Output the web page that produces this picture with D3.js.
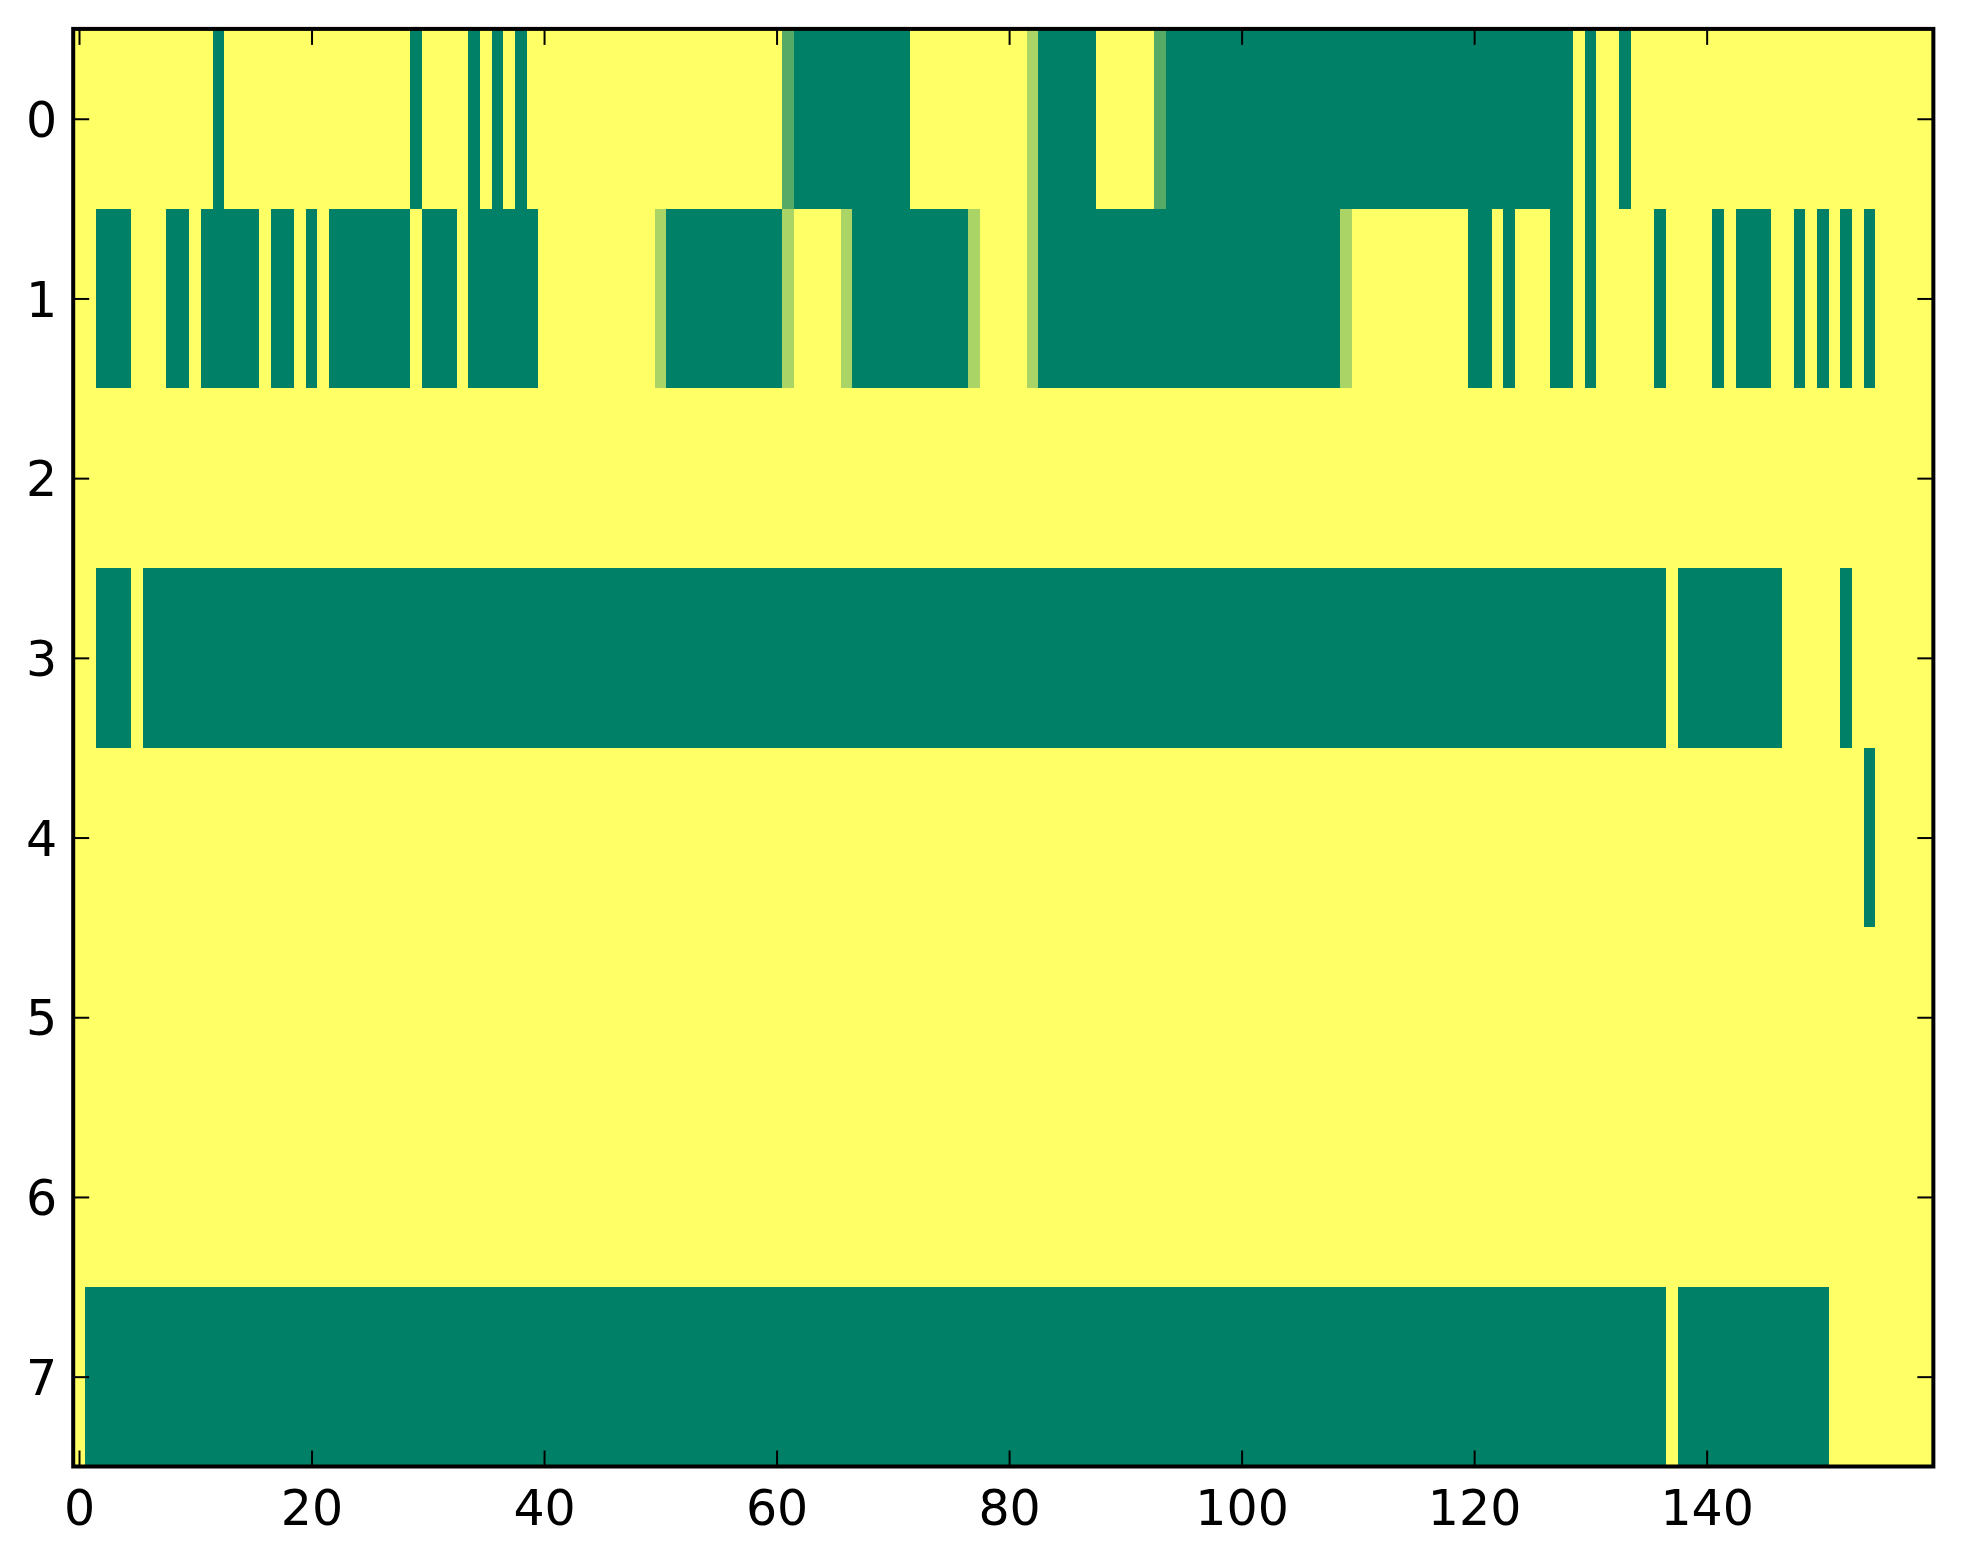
<!DOCTYPE html>
<html>
<head>
<meta charset="utf-8">
<script src="https://cdn.jsdelivr.net/npm/d3@7"></script>
<style>
  html, body { margin: 0; padding: 0; background: #ffffff; }
  svg { display: block; }
  text { font-family: "DejaVu Sans", sans-serif; fill: #000; }
</style>
</head>
<body>
<svg id="chart" width="1963" height="1564"></svg>
<script>
// Cell values per row (160 columns each). Digit d => value d/9 (0 = green, 9 = yellow).
const row0 = "9999999999 9909999999 9999999990 9999090909 9999999999 9999999999 9300000000 0099999999 9960000099 9993000000 0000000000 0000000000 0000000009 0990999999 9999999999 9999999999";
const row1 = "9900099900 9000009009 0900000009 0009000000 9999999999 6000000000 0699996000 0000000699 9960000000 0000000000 0000000006 9999999999 0090999009 0999990999 9090009909 0909099999";
const row2 = "9999999999 9999999999 9999999999 9999999999 9999999999 9999999999 9999999999 9999999999 9999999999 9999999999 9999999999 9999999999 9999999999 9999999999 9999999999 9999999999";
const row3 = "9900090000 0000000000 0000000000 0000000000 0000000000 0000000000 0000000000 0000000000 0000000000 0000000000 0000000000 0000000000 0000000000 0000000900 0000000999 9909999999";
const row4 = "9999999999 9999999999 9999999999 9999999999 9999999999 9999999999 9999999999 9999999999 9999999999 9999999999 9999999999 9999999999 9999999999 9999999999 9999999999 9999099999";
const row5 = "9999999999 9999999999 9999999999 9999999999 9999999999 9999999999 9999999999 9999999999 9999999999 9999999999 9999999999 9999999999 9999999999 9999999999 9999999999 9999999999";
const row6 = "9999999999 9999999999 9999999999 9999999999 9999999999 9999999999 9999999999 9999999999 9999999999 9999999999 9999999999 9999999999 9999999999 9999999999 9999999999 9999999999";
const row7 = "9000000000 0000000000 0000000000 0000000000 0000000000 0000000000 0000000000 0000000000 0000000000 0000000000 0000000000 0000000000 0000000000 0000000900 0000000000 0999999999";
const rows = [row0, row1, row2, row3, row4, row5, row6, row7];
const xTicks = [0, 20, 40, 60, 80, 100, 120, 140];
const yTicks = [0, 1, 2, 3, 4, 5, 6, 7];

(function () {
const grid = rows.map(s => s.replace(/\s+/g, "").split("").map(ch => +ch / 9));
const nCols = grid[0].length;
const nRows = grid.length;

const plotLeft = 73.2, plotTop = 28.9;
const plotW = 160 * 11.626, plotH = 8 * 179.7;

const svg = d3.select("#chart");
const x = d3.scaleLinear().domain([-0.5, nCols - 0.5]).range([plotLeft, plotLeft + plotW]);
const y = d3.scaleLinear().domain([-0.5, nRows - 0.5]).range([plotTop, plotTop + plotH]);
const color = d3.scaleLinear().domain([0, 1]).range(["#008066", "#ffff66"]).interpolate(d3.interpolateRgb);

const cells = [];
grid.forEach((r, ri) => r.forEach((v, ci) => cells.push({r: ri, c: ci, v})));

const px = v => Math.round(v);
svg.append("g").attr("shape-rendering", "crispEdges")
  .selectAll("rect").data(cells).join("rect")
  .attr("x", d => px(x(d.c - 0.5)))
  .attr("y", d => px(y(d.r - 0.5)))
  .attr("width", d => px(x(d.c + 0.5)) - px(x(d.c - 0.5)))
  .attr("height", d => px(y(d.r + 0.5)) - px(y(d.r - 0.5)))
  .attr("fill", d => color(d.v));

const tickLen = 16, tickW = 2;
const fontSize = 49;

const xb = svg.append("g").attr("transform", `translate(0,${plotTop + plotH})`)
  .call(d3.axisBottom(x).tickValues(xTicks).tickSizeInner(-tickLen).tickSizeOuter(0).tickPadding(0));
xb.select(".domain").remove();
xb.selectAll("line").attr("stroke", "#000").attr("stroke-width", tickW);
xb.selectAll("text").attr("font-size", fontSize).attr("y", 58).attr("dy", null)
  .style("font-family", "'DejaVu Sans', sans-serif").attr("fill", "#000");

const xt = svg.append("g").attr("transform", `translate(0,${plotTop})`)
  .call(d3.axisTop(x).tickValues(xTicks).tickSizeInner(-tickLen).tickSizeOuter(0).tickFormat(""));
xt.select(".domain").remove();
xt.selectAll("line").attr("stroke", "#000").attr("stroke-width", tickW);

const yl = svg.append("g").attr("transform", `translate(${plotLeft},0)`)
  .call(d3.axisLeft(y).tickValues(yTicks).tickSizeInner(-tickLen).tickSizeOuter(0).tickPadding(0));
yl.select(".domain").remove();
yl.selectAll("line").attr("stroke", "#000").attr("stroke-width", tickW);
yl.selectAll("text").attr("font-size", fontSize).attr("x", -16).attr("dy", "0.36em")
  .style("font-family", "'DejaVu Sans', sans-serif").attr("fill", "#000");

const yr = svg.append("g").attr("transform", `translate(${plotLeft + plotW},0)`)
  .call(d3.axisRight(y).tickValues(yTicks).tickSizeInner(-tickLen).tickSizeOuter(0).tickFormat(""));
yr.select(".domain").remove();
yr.selectAll("line").attr("stroke", "#000").attr("stroke-width", tickW);

svg.append("rect")
  .attr("x", plotLeft).attr("y", plotTop).attr("width", plotW).attr("height", plotH)
  .attr("fill", "none").attr("stroke", "#000").attr("stroke-width", 4);
})();
</script>
</body>
</html>
